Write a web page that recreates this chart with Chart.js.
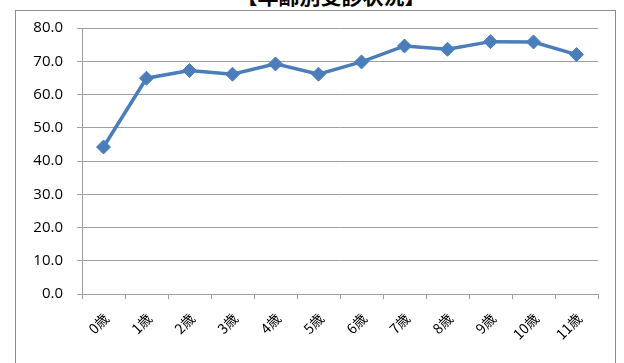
<!DOCTYPE html>
<html>
<head>
<meta charset="utf-8">
<script src="https://cdn.jsdelivr.net/npm/chart.js@4/dist/chart.umd.min.js"></script>
<style>
  html, body { margin: 0; padding: 0; background: #fff; }
  body { width: 624px; height: 363px; position: relative; overflow: hidden; }
  #title {
    position: absolute; left: 0; width: 662px; top: -15px;
    text-align: center; font: bold 21px "Noto Sans CJK JP", sans-serif;
    line-height: 21px; color: #000; white-space: nowrap;
  }
  #frame {
    position: absolute; left: 15px; top: 10px; width: 601px; height: 400px;
    border: 1px solid #8c8c8c; box-sizing: border-box;
  }
  #wrap { position: absolute; left: 0; top: 0; width: 624px; height: 363px; }
</style>
</head>
<body>
<div id="title">【年齢別受診状況】</div>
<div id="frame"></div>
<div id="wrap"><canvas id="c"></canvas></div>
<script>
// Age groups and consultation rate (%)
const categories = ['0歳', '1歳', '2歳', '3歳', '4歳', '5歳', '6歳', '7歳', '8歳', '9歳', '10歳', '11歳'];
const rates = [44.2, 64.9, 67.2, 66.1, 69.2, 66.1, 69.8, 74.6, 73.6, 75.9, 75.8, 72.0];
const yTicks = [0, 10, 20, 30, 40, 50, 60, 70, 80];

const lineBlue = '#4a7ebb';
const gridGray = '#a0a0a0';

new Chart(document.getElementById('c'), {
  type: 'line',
  data: {
    labels: categories,
    datasets: [{
      data: rates,
      borderColor: lineBlue,
      backgroundColor: lineBlue,
      borderWidth: 3.5,
      pointStyle: 'rectRot',
      pointRadius: 7,
      pointBorderWidth: 1,
      pointBackgroundColor: lineBlue,
      pointBorderColor: lineBlue,
      tension: 0,
      fill: false
    }]
  },
  options: {
    responsive: true,
    maintainAspectRatio: false,
    animation: false,
    layout: { padding: { left: 0, right: 26, top: 28, bottom: 0 } },
    plugins: { legend: { display: false }, tooltip: { enabled: false }, title: { display: false } },
    scales: {
      x: {
        type: 'category',
        offset: true,
        grid: { offset: true, drawOnChartArea: false, drawTicks: true, tickLength: 5, color: gridGray },
        border: { color: gridGray, width: 1 },
        ticks: {
          maxRotation: 45, minRotation: 45, padding: 11, labelOffset: 3,
          color: '#000',
          font: { family: '"Noto Sans CJK JP", sans-serif', size: 14 }
        },
        afterFit: s => { s.height = 69; }
      },
      y: {
        min: 0, max: 80,
        afterBuildTicks: s => { s.ticks = yTicks.map(v => ({ value: v })); },
        grid: { color: gridGray, tickLength: 5, lineWidth: 1 },
        border: { color: gridGray, width: 1 },
        ticks: {
          padding: 14,
          color: '#000',
          font: { family: '"Open Sans", sans-serif', size: 15 },
          callback: v => Number(v).toFixed(1)
        },
        afterFit: s => { s.width = 82; }
      }
    }
  }
});
</script>
</body>
</html>
